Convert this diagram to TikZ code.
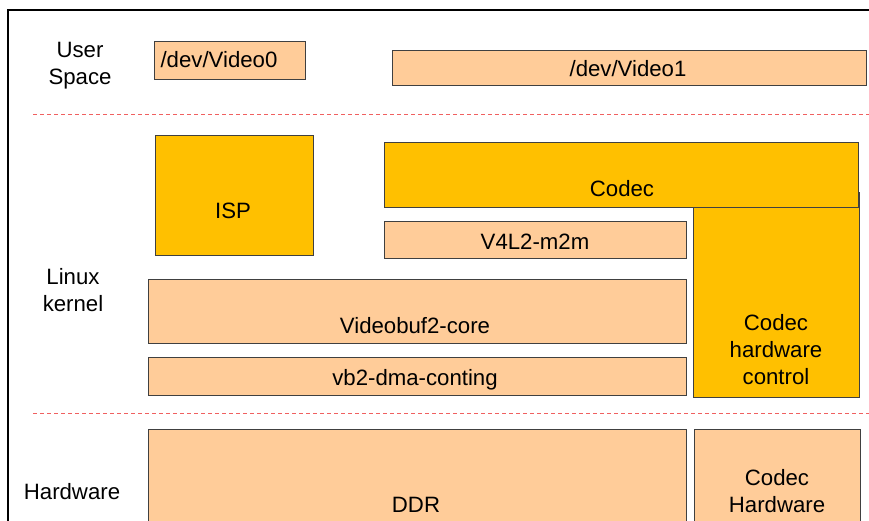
\documentclass[tikz,border=0pt]{standalone}
\usepackage{fontspec}
\setmainfont{Liberation Sans}
\definecolor{peach}{RGB}{255,204,153}
\definecolor{amber}{RGB}{255,192,0}
\definecolor{sepred}{RGB}{240,96,96}
\begin{document}
\begin{tikzpicture}[x=1pt,y=-1pt,
  every node/.style={font=\fontsize{22.2}{27}\selectfont, inner sep=0pt, align=center},
  blk/.style={draw=black!75, line width=0.9pt},
  soft/.style={fill=peach},
  hot/.style={fill=amber},
  sep/.style={draw=sepred, line width=0.8pt, dash pattern=on 4pt off 3pt},
  lbl/.style={anchor=base}]
\useasboundingbox (0,0) rectangle (869,520);
\clip (0,0) rectangle (869,520);
\fill[white] (0,0) rectangle (869,520);

% outer frame
\draw[line width=2pt] (8,530) -- (8,10) -- (880,10);

% layer separators
\coordinate (s1a) at (33,114); \coordinate (s1b) at (869,114);
\coordinate (s2a) at (33,413); \coordinate (s2b) at (869,413);
\draw[sep] (s1a) -- (s1b);
\draw[sep] (s2a) -- (s2b);

% layer labels
\node (lus) at (80,66) {User\\Space};
\node (llk) at (73,290) {Linux\\kernel};
\node (lhw) at (72,492) {Hardware};

% user space
\draw[blk, soft] (154,41) rectangle (305,79);
\node[lbl] (v0) at (219,67) {/dev/Video0};
\draw[blk, soft] (392,50) rectangle (866,85);
\node[lbl] (v1) at (628,76) {/dev/Video1};

% kernel
\draw[blk, hot] (155,135) rectangle (313,255);
\node[lbl] (isp) at (233,218) {ISP};
\draw[blk, hot] (693,192) rectangle (859,397);
\draw[blk, hot] (384,142) rectangle (858,207);
\node[lbl] (codec) at (622,196) {Codec};
\node (chc) at (776,350) {Codec\\hardware\\control};
\draw[blk, soft] (384,221) rectangle (686,258);
\node[lbl] (m2m) at (535,249) {V4L2-m2m};
\draw[blk, soft] (148,279) rectangle (686,343);
\node[lbl] (vb2c) at (415,333) {Videobuf2-core};
\draw[blk, soft] (148,357) rectangle (686,395);
\node[lbl] (vb2d) at (415,385) {vb2-dma-conting};

% hardware
\draw[blk, soft] (148,429) rectangle (686,530);
\node[lbl] (ddr) at (416,512) {DDR};
\draw[blk, soft] (694,429) rectangle (860,530);
\node (chw) at (777,491) {Codec\\Hardware};
\end{tikzpicture}
\end{document}
